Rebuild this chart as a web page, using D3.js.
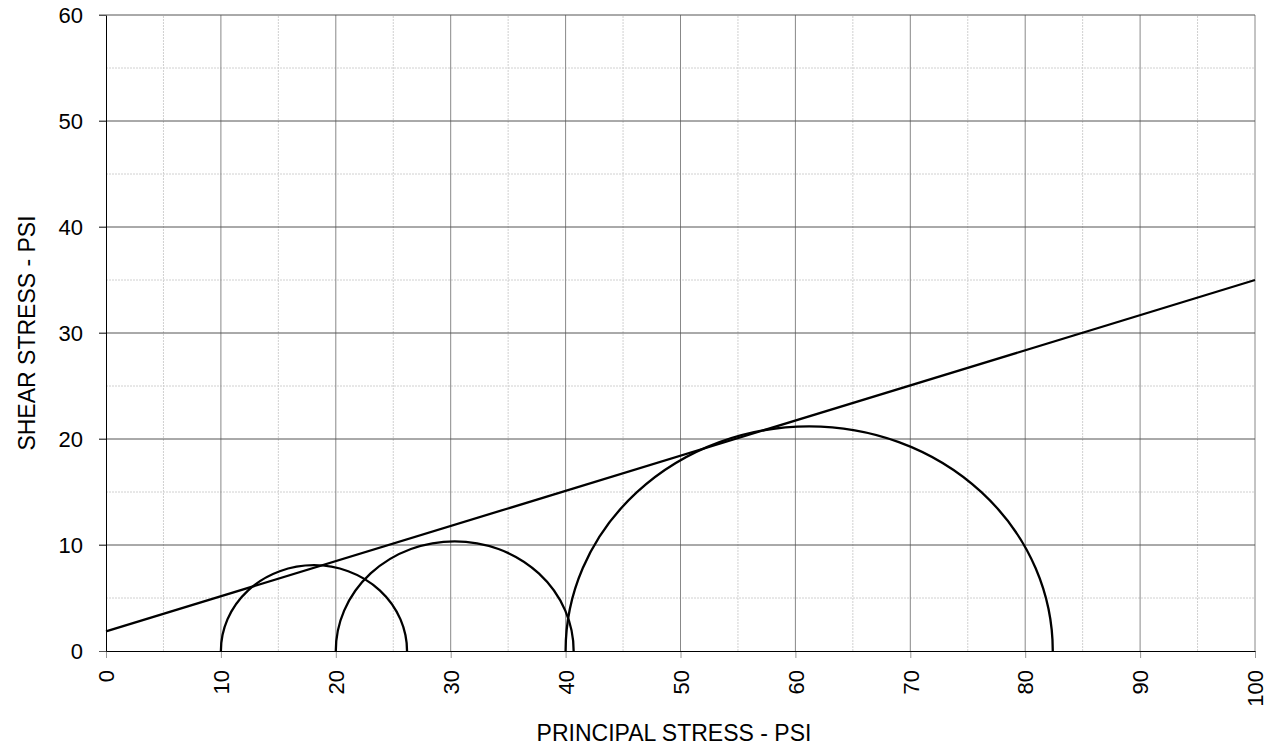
<!DOCTYPE html>
<html>
<head>
<meta charset="utf-8">
<title>Mohr circles</title>
<style>
  body { margin: 0; background: #fff; }
  text { font-family: "Liberation Sans", Arial, sans-serif; fill: #000; }
</style>
</head>
<body>
<svg id="chart"></svg>
<script src="https://d3js.org/d3.v7.min.js"></script>
<script>
// principal stresses of each test (minor, major)
var sigma3 = [10, 20, 40];
var sigma1 = [26.2, 40.7, 82.4];
// failure envelope end points
var envX = [0, 100];
var envY = [1.85, 35.0];
var xTicks = [0, 10, 20, 30, 40, 50, 60, 70, 80, 90, 100];
var yTicks = [0, 10, 20, 30, 40, 50, 60];
var xMinor = [5, 15, 25, 35, 45, 55, 65, 75, 85, 95];
var yMinor = [5, 15, 25, 35, 45, 55];

var width = 1275, height = 747;
var margin = {left: 106, right: 20, top: 15, bottom: 96};

var svg = d3.select("#chart").attr("width", width).attr("height", height);

var x = d3.scaleLinear().domain([0, 100]).range([margin.left, 1255]);
var y = d3.scaleLinear().domain([0, 60]).range([651, margin.top]);

// minor grid (dashed)
svg.append("g").selectAll("line").data(xMinor).enter().append("line")
  .attr("x1", d => x(d)).attr("x2", d => x(d))
  .attr("y1", y(0)).attr("y2", y(60))
  .attr("stroke", "#d0d0d0").attr("stroke-dasharray", "2,1");
svg.append("g").selectAll("line").data(yMinor).enter().append("line")
  .attr("y1", d => y(d)).attr("y2", d => y(d))
  .attr("x1", x(0)).attr("x2", x(100))
  .attr("stroke", "#d0d0d0").attr("stroke-dasharray", "2,1");

// major grid
svg.append("g").selectAll("line").data(xTicks.slice(1)).enter().append("line")
  .attr("x1", d => x(d)).attr("x2", d => x(d))
  .attr("y1", y(0)).attr("y2", y(60))
  .attr("stroke", "#888");
svg.append("g").selectAll("line").data(yTicks.slice(1)).enter().append("line")
  .attr("y1", d => y(d)).attr("y2", d => y(d))
  .attr("x1", x(0) - 7).attr("x2", x(100))
  .attr("stroke", "#555");

// axes
var xAxis = svg.append("g").attr("transform", "translate(0," + y(0) + ")")
  .call(d3.axisBottom(x).tickValues(xTicks).tickSize(7).tickSizeOuter(0));
xAxis.select(".domain").attr("stroke", "#000");
xAxis.selectAll(".tick line").attr("stroke", "#999");
xAxis.selectAll("text")
  .attr("font-size", 22)
  .attr("transform", "rotate(-90)")
  .attr("text-anchor", "end")
  .attr("x", -19).attr("y", 0).attr("dy", "0.35em");

var yAxis = svg.append("g").attr("transform", "translate(" + x(0) + ",0)")
  .call(d3.axisLeft(y).tickValues(yTicks).tickSize(7).tickSizeOuter(0));
yAxis.select(".domain").attr("stroke", "#000");
yAxis.selectAll(".tick line").attr("stroke", "#555");
yAxis.selectAll("text").attr("font-size", 22).attr("x", -23);
xAxis.select(".domain").raise();

// Mohr circles (upper halves)
svg.append("g").selectAll("path").data(sigma3).enter().append("path")
  .attr("d", function(d, i) {
    var r = (x(sigma1[i]) - x(d)) / 2;
    var ry = y(0) - y((sigma1[i] - d) / 2);
    return "M" + x(d) + "," + y(0) + " A" + r + "," + ry + " 0 0 1 " + x(sigma1[i]) + "," + y(0);
  })
  .attr("fill", "none").attr("stroke", "#000").attr("stroke-width", 2.3);

// envelope
svg.append("line")
  .attr("x1", x(envX[0])).attr("y1", y(envY[0]))
  .attr("x2", x(envX[1])).attr("y2", y(envY[1]))
  .attr("stroke", "#000").attr("stroke-width", 2.3);

// axis titles
svg.append("text").attr("x", 674).attr("y", 741)
  .attr("text-anchor", "middle").attr("font-size", 23)
  .text("PRINCIPAL STRESS - PSI");
svg.append("text")
  .attr("transform", "translate(35," + y(30) + ") rotate(-90)")
  .attr("text-anchor", "middle").attr("font-size", 23)
  .text("SHEAR STRESS - PSI");
</script>
</body>
</html>
